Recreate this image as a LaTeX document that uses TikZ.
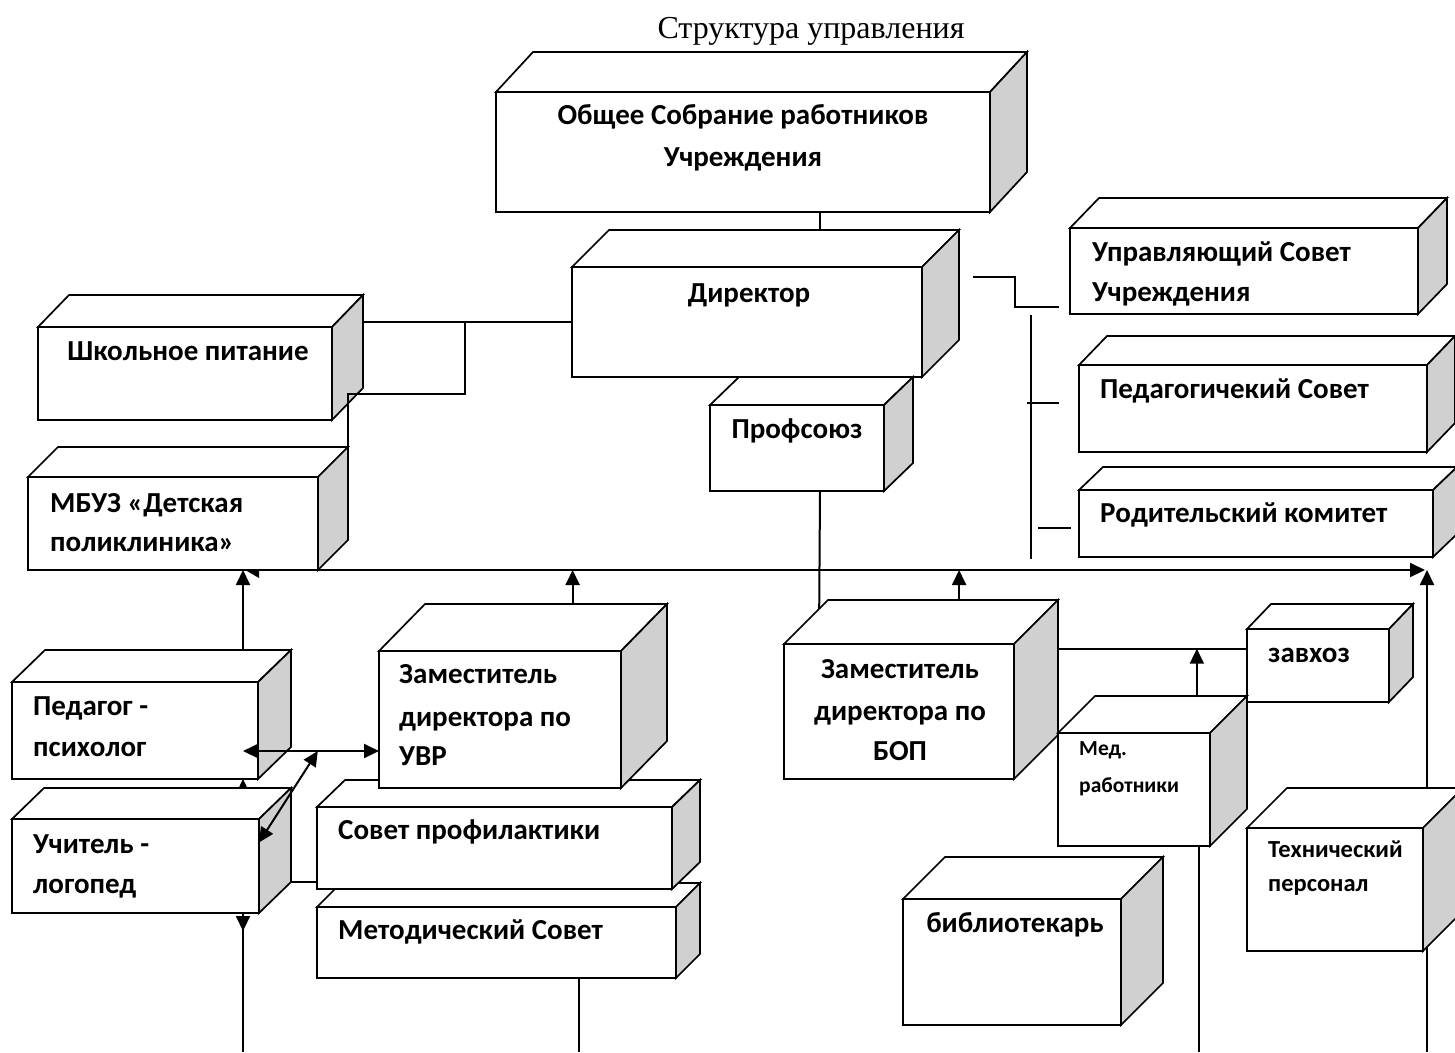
\documentclass[tikz,border=0pt]{standalone}
\usepackage{fontspec}
\setmainfont{Carlito}
\newfontfamily\titlefont{Liberation Serif}
\usetikzlibrary{arrows.meta,calc}
\definecolor{sidegray}{RGB}{208,208,208}
\tikzset{
 boxline/.style={line width=1.7pt, line join=miter},
 boxfront/.style={boxline, draw=black, fill=white, inner sep=0pt, outer sep=0pt, rectangle},
 conn/.style={line width=2pt},
 arr/.style={conn, -{Triangle[length=15pt,width=14pt]}},
 arrs/.style={conn, {Triangle[length=15pt,width=14pt]}-{Triangle[length=15pt,width=14pt]}},
 lbl/.style={font=\bfseries\fontsize{29}{34}\selectfont, inner sep=0pt, anchor=base west},
 lblc/.style={lbl, anchor=base},
 lbls/.style={font=\bfseries\fontsize{21.5}{25}\selectfont, inner sep=0pt, anchor=base west},
 lblm/.style={font=\bfseries\fontsize{24.5}{28}\selectfont, inner sep=0pt, anchor=base west},
 titlestyle/.style={font=\titlefont\fontsize{32}{38}\selectfont, inner sep=0pt, anchor=base},
}
\newcommand\cub[7]{%
 \draw[boxline, fill=white] (#2,#3) -- ({#2+#6},{#3-#7}) -- ({#4+#6},{#3-#7}) -- (#4,#3) -- cycle;
 \draw[boxline, fill=sidegray] (#4,#3) -- ({#4+#6},{#3-#7}) -- ({#4+#6},{#5-#7}) -- (#4,#5) -- cycle;
 \node[boxfront, anchor=north west, minimum width={(#4-#2)*1pt}, minimum height={(#5-#3)*1pt}] (#1) at (#2,#3) {};
 \coordinate (#1-tl) at ({#2+#6},{#3-#7});
 \coordinate (#1-tr) at ({#4+#6},{#3-#7});
 \coordinate (#1-br) at ({#4+#6},{#5-#7});
}
\begin{document}
\begin{tikzpicture}[x=1pt,y=-1pt]
\useasboundingbox[fill=white] (0,0) rectangle (1455,1052);
\coordinate (lane) at (820,0);
\coordinate (laneL) at (243,0);
\coordinate (bottom) at (0,1052);
\coordinate (busR) at (1425,570);

\node[titlestyle] (title) at (811,38) {Структура управления};

% top
\cub{obshee}{496}{92}{990}{212}{37}{40}
\node[lblc] (t-ob1) at (743,124) {Общее Собрание работников};
\node[lblc] (t-ob2) at (743,166) {Учреждения};
\cub{director}{572}{267}{922}{377}{37}{37}
\draw[conn] (lane |- obshee.south) -- (lane |- director-tl);
\node[lblc] (t-dir) at (749,302) {Директор};
\cub{profsoyuz}{710}{405}{884}{491}{29}{28}
\node[lblc] (t-prof) at (797,438) {Профсоюз};

% right councils
\cub{upr}{1070}{228}{1418}{314}{29}{30}
\node[lbl] (t-upr1) at (1092,261) {Управляющий Совет};
\node[lbl] (t-upr2) at (1092,301) {Учреждения};
\cub{pedsov}{1079}{365}{1427}{452}{28}{29}
\node[lbl] (t-ped) at (1100,398) {Педагогичекий Совет};
\cub{rodkom}{1079}{490}{1433}{557}{24}{23}
\node[lbl] (t-rod) at (1100,522) {Родительский комитет};
\coordinate (r1) at (973,277);
\coordinate (r2) at (1059,307);
\draw[conn] (r1) -- ++(42,0) |- (r2);
\coordinate (v1) at (1031,315);
\coordinate (v2) at (1031,559);
\draw[conn] (v1) -- (v2);
\coordinate (k1a) at (1027,403);
\coordinate (k1b) at (1059,403);
\draw[conn] (k1a) -- (k1b);
\coordinate (k2a) at (1038,528);
\coordinate (k2b) at (1071,528);
\draw[conn] (k2a) -- (k2b);

% left top
\cub{shkol}{38}{327}{332}{420}{31}{32}
\node[lblc] (t-shk) at (188,360) {Школьное питание};
\cub{mbuz}{28}{477}{318}{570}{30}{30}
\node[lbl] (t-mb1) at (50,512) {МБУЗ «Детская};
\node[lbl] (t-mb2) at (50,551) {поликлиника»};
\draw[conn] (director.west) -- (director.west -| shkol-tr);
\coordinate (jn) at (465,0);
\coordinate (jy) at (0,394);
\draw[conn] (jn |- director.west) |- (mbuz-tr |- jy) -- (mbuz-tr);

% bus
\draw[arr] (mbuz.south east) -- (busR);
\fill (247,571) -- (259,571) -- (259,578) -- cycle;

% lower left
\cub{pedpsy}{12}{682}{258}{779}{33}{32}
\draw[arr] (laneL |- pedpsy-tl) -- (laneL |- busR);
\node[lbl] (t-pp1) at (33,715) {Педагог -};
\node[lbl] (t-pp2) at (33,756) {психолог};
\coordinate (ustart) at ($(laneL |- pedpsy.south)+(0,40)$);
\draw[arr] (ustart) -- (laneL |- pedpsy.south);
\cub{uchlog}{12}{819}{259}{913}{32}{31}
\node[lbl] (t-ul1) at (33,853) {Учитель -};
\node[lbl] (t-ul2) at (33,893) {логопед};
\draw[conn] (laneL |- uchlog.south) -- (laneL |- bottom);
\draw[arr] (laneL |- uchlog.south) -- ++(0,18);

\cub{metod}{317}{907}{676}{978}{24}{24}
\node[lbl] (t-met) at (338,939) {Методический Совет};
\cub{sovprof}{317}{807}{672}{889}{28}{27}
\node[lbl] (t-sov) at (338,839) {Совет профилактики};
\cub{zamuvr}{379}{651}{621}{788}{46}{47}
\node[lbl] (t-uvr1) at (399,683) {Заместитель};
\node[lbl] (t-uvr2) at (399,726) {директора по};
\node[lbl] (t-uvr3) at (399,765) {УВР};
\coordinate (uvrup) at ($(zamuvr-tl)!0.61!(zamuvr-tr)$);
\draw[arr] (uvrup) -- (uvrup |- busR);
\coordinate (metdown) at ($(metod.south west)!0.73!(metod.south east)$);
\draw[conn] (metdown) -- (metdown |- bottom);

\coordinate (h1) at ($(zamuvr.north west)!0.73!(zamuvr.south west)$);
\draw[arrs] (laneL |- h1) -- (h1);
\coordinate (d1) at ($(uchlog.north east)!0.25!(uchlog.south east)$);
\coordinate (d2) at ($(laneL |- h1)!0.55!(h1)$);
\draw[arrs] (d1) -- (d2);
\draw[conn] (uchlog-br) -- (uchlog-br -| sovprof.west);

% lower right
\cub{zambop}{784}{644}{1014}{779}{44}{44}
\draw[conn] (lane |- profsoyuz.south) -- ($(zambop.north west)!0.8!(zambop-tl)$);
\node[lblc] (t-bop1) at (900,678) {Заместитель};
\node[lblc] (t-bop2) at (900,720) {директора по};
\node[lblc] (t-bop3) at (900,760) {БОП};
\coordinate (bopup) at ($(zambop-tl)!0.57!(zambop-tr)$);
\draw[arr] (bopup) -- (bopup |- busR);

\cub{zavhoz}{1247}{629}{1389}{702}{24}{25}
\node[lbl] (t-zav) at (1268,662) {завхоз};
\coordinate (zv) at ($(zavhoz.north west)!0.27!(zavhoz.south west)$);
\draw[conn] (zv -| zambop-tr) -- (zv);

\cub{med}{1058}{733}{1210}{846}{37}{37}
\node[lbls] (t-med1) at (1079,755) {Мед.};
\node[lbls] (t-med2) at (1079,792) {работники};
\coordinate (medup) at ($(med-tl)!0.67!(med-tr)$);
\draw[arr] (medup) -- (medup |- zv);
\coordinate (meddown) at ($(med.south west)!0.93!(med.south east)$);
\draw[conn] (meddown) -- (meddown |- bottom);

\coordinate (techlane) at (1427,0);
\draw[arr] (techlane |- bottom) -- (techlane |- busR);
\cub{tech}{1247}{828}{1423}{951}{40}{40}
\node[lblm] (t-te1) at (1268,857) {Технический};
\node[lblm] (t-te2) at (1268,891) {персонал};

\cub{bibl}{903}{899}{1121}{1025}{42}{42}
\node[lblc] (t-bib) at (1015,932) {библиотекарь};
\end{tikzpicture}
\end{document}
